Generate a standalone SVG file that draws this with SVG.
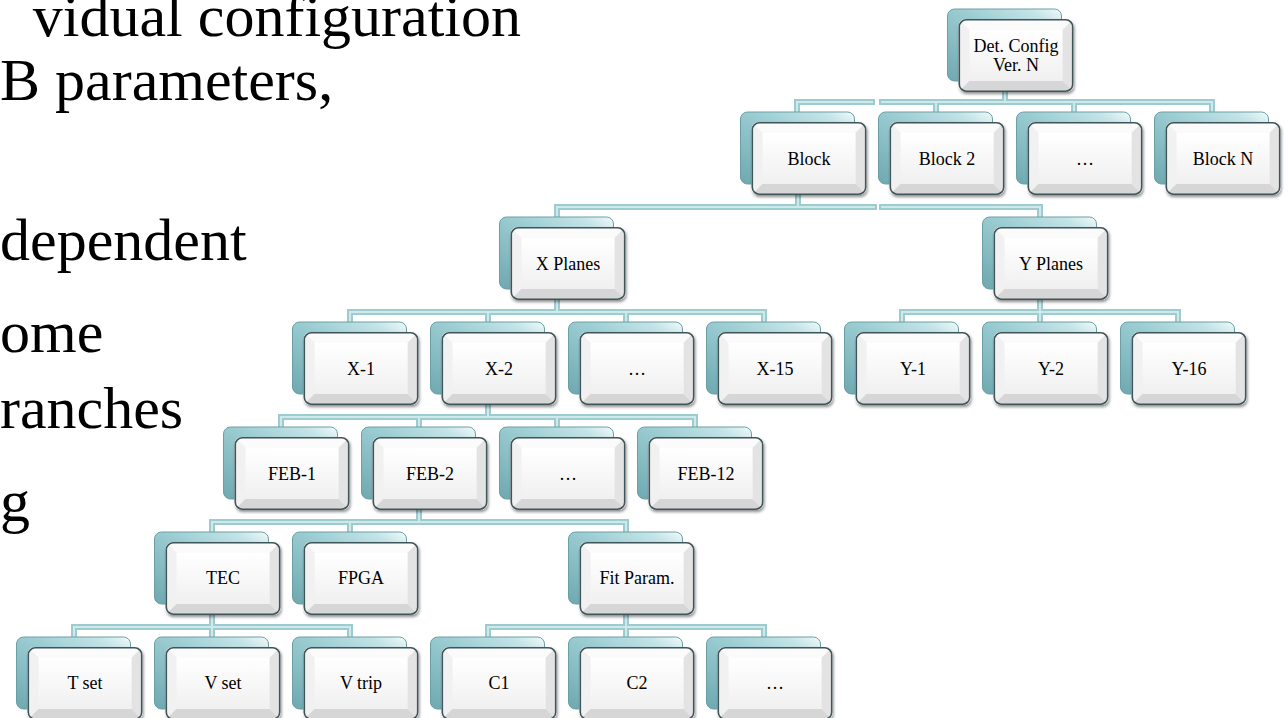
<svg xmlns="http://www.w3.org/2000/svg" width="1288" height="718" viewBox="0 0 1288 718">
<style>
.big{font-size:60px;fill:#000}
.lbl{font-size:18px;fill:#000;text-anchor:middle}
.c1{fill:none;stroke:#9ccbd0;stroke-width:6;stroke-linecap:square}
.c2{fill:none;stroke:#cfe8ea;stroke-width:2;stroke-linecap:square}
</style>
<defs>
<linearGradient id="tealG" x1="0" y1="1" x2="1" y2="0">
<stop offset="0" stop-color="#6fa8b0"/>
<stop offset="0.55" stop-color="#9bcdd2"/>
<stop offset="0.85" stop-color="#c4e4e7"/>
<stop offset="1" stop-color="#f2fafa"/>
</linearGradient>
<linearGradient id="faceG" x1="0" y1="0" x2="0" y2="1">
<stop offset="0" stop-color="#ffffff"/>
<stop offset="1" stop-color="#f0f0f0"/>
</linearGradient>
<filter id="sh" x="-10%" y="-10%" width="125%" height="135%">
<feGaussianBlur in="SourceAlpha" stdDeviation="1.5"/>
<feOffset dx="1" dy="2" result="b"/>
<feComponentTransfer><feFuncA type="linear" slope="0.45"/></feComponentTransfer>
<feMerge><feMergeNode/><feMergeNode in="SourceGraphic"/></feMerge>
</filter>
<clipPath id="fc"><rect x="0" y="0" width="115" height="73" rx="7"/></clipPath>
<g id="node">
<rect x="-11" y="-10" width="114" height="72" rx="7" fill="url(#tealG)" stroke="#6a9fa6" stroke-width="1"/>
<rect x="0" y="0" width="115" height="73" rx="7" fill="#eeeeee" filter="url(#sh)"/>
<g clip-path="url(#fc)">
<polygon points="0,0 115,0 104,11 11,11" fill="#fbfbfb"/>
<polygon points="0,0 11,11 11,62 0,73" fill="#f1f1f1"/>
<polygon points="115,0 115,73 104,62 104,11" fill="#e3e3e3"/>
<polygon points="0,73 11,62 104,62 115,73" fill="#d6d6d6"/>
<rect x="11" y="11" width="93" height="51" fill="url(#faceG)"/>
</g>
<rect x="0.8" y="0.8" width="113.4" height="71.4" rx="7" fill="none" stroke="#40555a" stroke-width="1.6"/>
</g>
</defs>
<rect width="1288" height="718" fill="#ffffff"/>
<g id="bullet-text" font-family="Liberation Serif, Times New Roman, serif">
<text class="big" x="521" y="36" text-anchor="end">vidual configuration</text>
<text class="big" x="0" y="100">B parameters,</text>
<text class="big" x="0" y="260">dependent</text>
<text class="big" x="0" y="352">ome</text>
<text class="big" x="0" y="428">ranches</text>
<text class="big" x="0" y="521">g</text>
</g>
<g id="connectors">
<path class="c1" d="M1005,92V102M797,102H872M882,102H1212M797,102V112M936,102V112M1074,102V112M1212,102V112"/>
<path class="c1" d="M798,195V207M557,207H874M882,207H1040M557,207V217M1040,207V217"/>
<path class="c1" d="M557,300V312M350,312H764M350,312V322M488,312V322M626,312V322M764,312V322"/>
<path class="c1" d="M1040,300V312M902,312H1178M902,312V322M1040,312V322M1178,312V322"/>
<path class="c1" d="M488,405V417M281,417H695M281,417V427M419,417V427M557,417V427M695,417V427"/>
<path class="c1" d="M419,510V522M212,522H626M212,522V532M350,522V532M626,522V532"/>
<path class="c1" d="M212,615V627M74,627H350M74,627V637M212,627V637M350,627V637"/>
<path class="c1" d="M626,615V627M488,627H764M488,627V637M626,627V637M764,627V637"/>
<path class="c2" d="M1005,92V102M797,102H872M882,102H1212M797,102V112M936,102V112M1074,102V112M1212,102V112"/>
<path class="c2" d="M798,195V207M557,207H874M882,207H1040M557,207V217M1040,207V217"/>
<path class="c2" d="M557,300V312M350,312H764M350,312V322M488,312V322M626,312V322M764,312V322"/>
<path class="c2" d="M1040,300V312M902,312H1178M902,312V322M1040,312V322M1178,312V322"/>
<path class="c2" d="M488,405V417M281,417H695M281,417V427M419,417V427M557,417V427M695,417V427"/>
<path class="c2" d="M419,510V522M212,522H626M212,522V532M350,522V532M626,522V532"/>
<path class="c2" d="M212,615V627M74,627H350M74,627V637M212,627V637M350,627V637"/>
<path class="c2" d="M626,615V627M488,627H764M488,627V637M626,627V637M764,627V637"/>
</g>
<g id="nodes" font-family="Liberation Serif, Times New Roman, serif">
<g id="n-root"><use href="#node" x="958.5" y="19"/><text class="lbl" x="1016" y="52">Det. Config</text><text class="lbl" x="1016" y="71">Ver. N</text></g>
<g id="n-block1"><use href="#node" x="751.5" y="122"/><text class="lbl" x="809" y="165">Block</text></g>
<g id="n-block2"><use href="#node" x="889.5" y="122"/><text class="lbl" x="947" y="165">Block 2</text></g>
<g id="n-blockdots"><use href="#node" x="1027.5" y="122"/><text class="lbl" x="1085" y="165">…</text></g>
<g id="n-blockN"><use href="#node" x="1165.5" y="122"/><text class="lbl" x="1223" y="165">Block N</text></g>
<g id="n-xplanes"><use href="#node" x="510.5" y="227"/><text class="lbl" x="568" y="270">X Planes</text></g>
<g id="n-yplanes"><use href="#node" x="993.5" y="227"/><text class="lbl" x="1051" y="270">Y Planes</text></g>
<g id="n-x1"><use href="#node" x="303.5" y="332"/><text class="lbl" x="361" y="375">X-1</text></g>
<g id="n-x2"><use href="#node" x="441.5" y="332"/><text class="lbl" x="499" y="375">X-2</text></g>
<g id="n-xdots"><use href="#node" x="579.5" y="332"/><text class="lbl" x="637" y="375">…</text></g>
<g id="n-x15"><use href="#node" x="717.5" y="332"/><text class="lbl" x="775" y="375">X-15</text></g>
<g id="n-y1"><use href="#node" x="855.5" y="332"/><text class="lbl" x="913" y="375">Y-1</text></g>
<g id="n-y2"><use href="#node" x="993.5" y="332"/><text class="lbl" x="1051" y="375">Y-2</text></g>
<g id="n-y16"><use href="#node" x="1131.5" y="332"/><text class="lbl" x="1189" y="375">Y-16</text></g>
<g id="n-feb1"><use href="#node" x="234.5" y="437"/><text class="lbl" x="292" y="480">FEB-1</text></g>
<g id="n-feb2"><use href="#node" x="372.5" y="437"/><text class="lbl" x="430" y="480">FEB-2</text></g>
<g id="n-febdots"><use href="#node" x="510.5" y="437"/><text class="lbl" x="568" y="480">…</text></g>
<g id="n-feb12"><use href="#node" x="648.5" y="437"/><text class="lbl" x="706" y="480">FEB-12</text></g>
<g id="n-tec"><use href="#node" x="165.5" y="542"/><text class="lbl" x="223" y="584">TEC</text></g>
<g id="n-fpga"><use href="#node" x="303.5" y="542"/><text class="lbl" x="361" y="584">FPGA</text></g>
<g id="n-fit"><use href="#node" x="579.5" y="542"/><text class="lbl" x="637" y="584">Fit Param.</text></g>
<g id="n-tset"><use href="#node" x="27.5" y="647"/><text class="lbl" x="85" y="689">T set</text></g>
<g id="n-vset"><use href="#node" x="165.5" y="647"/><text class="lbl" x="223" y="689">V set</text></g>
<g id="n-vtrip"><use href="#node" x="303.5" y="647"/><text class="lbl" x="361" y="689">V trip</text></g>
<g id="n-c1"><use href="#node" x="441.5" y="647"/><text class="lbl" x="499" y="689">C1</text></g>
<g id="n-c2"><use href="#node" x="579.5" y="647"/><text class="lbl" x="637" y="689">C2</text></g>
<g id="n-cdots"><use href="#node" x="717.5" y="647"/><text class="lbl" x="775" y="689">…</text></g>
</g>
</svg>
